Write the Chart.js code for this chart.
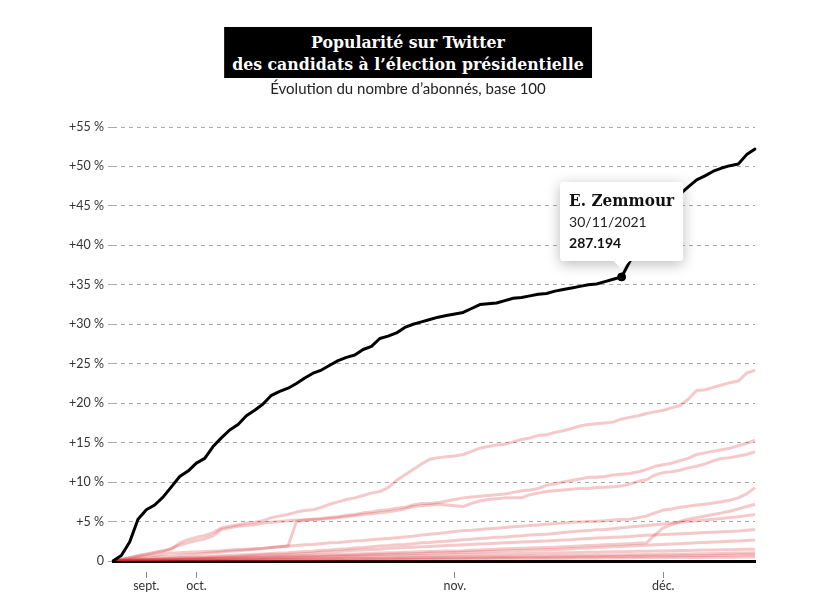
<!DOCTYPE html>
<html lang="fr">
<head>
<meta charset="utf-8">
<script src="https://cdn.jsdelivr.net/npm/chart.js@4.4.1/dist/chart.umd.min.js"></script>
<style>
  html, body { margin: 0; padding: 0; background: #fff; }
  #wrap { position: relative; width: 816px; height: 612px; }
  #title { position: absolute; top: 27px; left: 50%; transform: translateX(-50%);
    background: #000; color: #fff; font-family: 'DejaVu Serif Condensed', 'DejaVu Serif', serif; font-stretch: condensed; font-weight: bold;
    font-size: 17.5px; line-height: 22px; padding: 4px 8px 3px; text-align: center; white-space: nowrap; }
  #subtitle { position: absolute; top: 79px; left: 0; width: 816px; text-align: center;
    font-family: Lato, 'Open Sans', sans-serif; font-size: 15px; color: #222; }
  canvas { position: absolute; left: 0; top: 0; }
</style>
</head>
<body>
<div id="wrap">
  <canvas id="c" width="816" height="612"></canvas>
  <div id="title">Popularité sur Twitter<br>des candidats à l’élection présidentielle</div>
  <div id="subtitle">Évolution du nombre d’abonnés, base 100</div>
</div>
<script>
// ---- Data ----
const dates = [
  '20/08/2021','23/08/2021','26/08/2021','29/08/2021',
  '01/09/2021','06/09/2021','11/09/2021','16/09/2021','21/09/2021','26/09/2021',
  '01/10/2021','02/10/2021','03/10/2021','04/10/2021','05/10/2021','06/10/2021','07/10/2021','08/10/2021',
  '09/10/2021','10/10/2021','11/10/2021','12/10/2021','13/10/2021','14/10/2021','15/10/2021','16/10/2021',
  '17/10/2021','18/10/2021','19/10/2021','20/10/2021','21/10/2021','22/10/2021','23/10/2021','24/10/2021',
  '25/10/2021','26/10/2021','27/10/2021','28/10/2021','29/10/2021','30/10/2021','31/10/2021',
  '01/11/2021','02/11/2021','04/11/2021','05/11/2021','07/11/2021','08/11/2021','10/11/2021','11/11/2021',
  '13/11/2021','14/11/2021','16/11/2021','17/11/2021','19/11/2021','20/11/2021','22/11/2021','23/11/2021',
  '25/11/2021','26/11/2021','28/11/2021','29/11/2021','30/11/2021',
  '01/12/2021','02/12/2021','03/12/2021','04/12/2021','05/12/2021','06/12/2021','07/12/2021','08/12/2021',
  '09/12/2021','10/12/2021','11/12/2021','12/12/2021','13/12/2021','14/12/2021','15/12/2021','16/12/2021'
];

const monthTickLabels = ['sept.', 'oct.', 'nov.', 'déc.'];
const monthTickIndex  = [4, 10, 41, 66];

const yTickValues = [0, 5, 10, 15, 20, 25, 30, 35, 40, 45, 50, 55];

// growth in % (base 100)
const zemmour = [0,0.7,2.4,5.3,6.5,7.1,8.1,9.4,10.7,11.4,
  12.4,13.0,14.5,15.6,16.6,17.3,18.4,19.1,19.9,21.0,
  21.5,21.9,22.5,23.2,23.8,24.2,24.8,25.4,25.8,26.1,
  26.8,27.2,28.2,28.5,28.9,29.6,30.0,30.3,30.6,30.9,
  31.1,31.3,31.5,32.0,32.5,32.6,32.7,33.0,33.3,33.4,
  33.6,33.8,33.9,34.2,34.4,34.6,34.8,35.0,35.1,35.4,
  35.7,36.0,38.0,39.5,41.0,42.5,44.0,45.2,46.5,47.4,
  48.3,48.8,49.4,49.8,50.1,50.3,51.5,52.2];
const zemmourBaseFollowers = 211172;

const candA = [0,0.2,0.4,0.7,0.9,1.1,1.3,1.5,2.3,2.7,
  3.0,3.2,3.6,4.2,4.4,4.6,4.8,4.9,5.1,5.5,
  5.7,5.9,6.2,6.4,6.5,6.8,7.2,7.5,7.8,8.0,
  8.3,8.6,8.8,9.3,10.2,10.9,11.6,12.3,12.9,13.1,
  13.2,13.3,13.5,13.9,14.3,14.5,14.7,14.8,15.1,15.4,
  15.6,15.9,16.0,16.3,16.5,16.8,17.1,17.3,17.4,17.5,
  17.6,18.0,18.2,18.4,18.7,18.9,19.1,19.4,19.7,20.5,
  21.6,21.7,22.0,22.3,22.6,22.8,23.8,24.2];
const candB = [0,0.2,0.4,0.6,0.8,1.0,1.2,1.6,2.0,2.3,
  2.6,2.8,3.2,4.0,4.2,4.4,4.5,4.6,4.8,4.9,
  5.0,5.1,5.2,5.2,5.3,5.4,5.5,5.6,5.8,5.9,
  6.1,6.2,6.4,6.5,6.7,6.8,7.1,7.3,7.3,7.4,
  7.6,7.8,8.0,8.1,8.2,8.3,8.4,8.5,8.7,8.9,
  9.0,9.2,9.6,9.8,10.0,10.2,10.4,10.6,10.6,10.7,
  10.9,11.0,11.1,11.3,11.6,12.0,12.2,12.4,12.7,13.0,
  13.5,13.7,13.9,14.1,14.3,14.6,14.9,15.3];
const candC = [0,0.15,0.3,0.45,0.6,0.7,0.85,1.0,1.05,1.1,
  1.15,1.2,1.25,1.3,1.4,1.45,1.5,1.55,1.6,1.7,
  1.8,1.9,5.0,5.2,5.25,5.3,5.4,5.5,5.6,5.75,
  5.9,6.0,6.1,6.25,6.4,6.6,6.9,7.0,7.1,7.2,
  7.1,7.0,6.9,7.3,7.6,7.8,7.9,8.0,8.0,8.0,
  8.4,8.6,8.8,8.9,9.0,9.1,9.2,9.2,9.3,9.35,
  9.4,9.5,9.75,10.1,10.3,10.9,11.2,11.3,11.5,11.8,
  12.0,12.3,12.7,13.0,13.1,13.3,13.5,13.85];
const candD = [0,0.1,0.2,0.3,0.35,0.45,0.55,0.6,0.7,0.8,
  0.85,0.95,1.05,1.15,1.25,1.3,1.4,1.5,1.6,1.7,
  1.8,1.9,1.95,2.05,2.1,2.2,2.3,2.35,2.45,2.55,
  2.6,2.7,2.8,2.85,2.95,3.05,3.15,3.3,3.4,3.5,
  3.6,3.75,3.85,3.9,4.0,4.1,4.15,4.25,4.35,4.4,
  4.5,4.55,4.65,4.75,4.8,4.9,4.95,5.0,5.05,5.1,
  5.2,5.25,5.3,5.5,5.7,6.1,6.45,6.6,6.8,6.95,
  7.1,7.2,7.35,7.5,7.7,8.0,8.5,9.3];
const candE = [0,0.03,0.06,0.09,0.12,0.15,0.18,0.21,0.24,0.27,
  0.3,0.33,0.36,0.39,0.42,0.45,0.48,0.5,0.52,0.55,
  0.6,0.63,0.67,0.7,0.73,0.76,0.8,0.83,0.86,0.9,
  0.93,0.96,1.0,1.03,1.06,1.1,1.13,1.16,1.2,1.23,
  1.26,1.28,1.3,1.35,1.4,1.45,1.5,1.55,1.58,1.6,
  1.65,1.68,1.72,1.75,1.8,1.85,1.9,1.95,2.0,2.05,
  2.1,2.15,2.2,2.25,2.3,3.3,4.2,4.6,5.0,5.3,
  5.5,5.7,5.9,6.1,6.3,6.6,6.9,7.2];
const candF = [0,0.05,0.1,0.15,0.2,0.25,0.3,0.35,0.4,0.45,
  0.5,0.55,0.6,0.65,0.7,0.75,0.8,0.85,0.9,0.95,
  1.0,1.05,1.15,1.2,1.25,1.35,1.4,1.5,1.55,1.65,
  1.7,1.8,1.9,1.95,2.05,2.1,2.2,2.3,2.35,2.45,
  2.5,2.6,2.7,2.75,2.85,2.9,3.0,3.05,3.15,3.2,
  3.3,3.35,3.4,3.5,3.6,3.7,3.8,3.85,3.95,4.0,
  4.1,4.2,4.3,4.4,4.5,4.6,4.7,4.8,4.9,5.0,
  5.1,5.2,5.3,5.4,5.5,5.6,5.75,5.9];
const candG = [0,0.05,0.1,0.15,0.2,0.2,0.25,0.3,0.35,0.4,
  0.4,0.45,0.5,0.55,0.55,0.6,0.65,0.7,0.75,0.8,
  0.8,0.85,0.9,0.95,1.0,1.1,1.15,1.2,1.3,1.35,
  1.4,1.45,1.5,1.6,1.65,1.7,1.75,1.8,1.85,1.9,
  1.95,2.0,2.05,2.1,2.15,2.2,2.25,2.3,2.35,2.4,
  2.45,2.5,2.55,2.6,2.65,2.7,2.8,2.85,2.9,2.95,
  3.0,3.05,3.1,3.2,3.25,3.3,3.35,3.4,3.45,3.5,
  3.55,3.6,3.65,3.7,3.75,3.8,3.9,4.0];
const candH = [0,0.02,0.05,0.07,0.1,0.12,0.15,0.17,0.2,0.22,
  0.25,0.27,0.3,0.32,0.35,0.37,0.4,0.42,0.45,0.47,
  0.48,0.5,0.52,0.55,0.58,0.6,0.63,0.66,0.7,0.73,
  0.76,0.8,0.82,0.85,0.88,0.9,0.93,0.96,1.0,1.02,
  1.05,1.08,1.1,1.13,1.16,1.2,1.23,1.26,1.3,1.33,
  1.36,1.4,1.43,1.46,1.5,1.55,1.6,1.65,1.7,1.75,
  1.8,1.85,1.9,1.95,2.0,2.05,2.1,2.15,2.2,2.25,
  2.3,2.35,2.4,2.45,2.5,2.55,2.6,2.66];
const candI = [0,0.02,0.04,0.06,0.08,0.1,0.12,0.14,0.16,0.18,
  0.2,0.22,0.24,0.26,0.28,0.3,0.32,0.34,0.36,0.38,
  0.4,0.42,0.44,0.46,0.48,0.5,0.52,0.54,0.56,0.58,
  0.6,0.61,0.62,0.64,0.66,0.68,0.7,0.71,0.72,0.74,
  0.76,0.78,0.8,0.82,0.84,0.86,0.88,0.9,0.92,0.94,
  0.96,0.98,1.0,1.02,1.04,1.06,1.08,1.1,1.12,1.14,
  1.16,1.18,1.2,1.22,1.24,1.26,1.28,1.3,1.32,1.34,
  1.36,1.38,1.4,1.42,1.44,1.46,1.48,1.5];
const candJ = [0,0.01,0.02,0.03,0.04,0.05,0.06,0.07,0.08,0.09,
  0.1,0.11,0.12,0.13,0.14,0.15,0.16,0.17,0.18,0.2,
  0.21,0.22,0.24,0.25,0.26,0.28,0.3,0.31,0.32,0.34,
  0.35,0.36,0.38,0.39,0.4,0.42,0.43,0.44,0.46,0.47,
  0.48,0.5,0.51,0.52,0.54,0.55,0.56,0.58,0.59,0.6,
  0.62,0.63,0.64,0.66,0.67,0.68,0.7,0.71,0.72,0.74,
  0.75,0.77,0.78,0.8,0.81,0.83,0.85,0.86,0.88,0.9,
  0.91,0.93,0.95,0.96,0.98,1.0,1.02,1.05];
const candK = [0,0.01,0.01,0.02,0.03,0.04,0.05,0.06,0.07,0.07,
  0.08,0.09,0.1,0.11,0.12,0.12,0.13,0.14,0.15,0.16,
  0.17,0.18,0.19,0.2,0.21,0.22,0.23,0.24,0.25,0.26,
  0.27,0.28,0.29,0.3,0.31,0.32,0.33,0.34,0.35,0.36,
  0.37,0.38,0.39,0.4,0.41,0.42,0.43,0.44,0.45,0.46,
  0.47,0.48,0.49,0.5,0.51,0.52,0.53,0.54,0.55,0.56,
  0.57,0.58,0.59,0.6,0.61,0.62,0.63,0.64,0.65,0.66,
  0.67,0.68,0.7,0.72,0.74,0.76,0.78,0.8];
const candL = [null,null,null,null,null,null,null,null,null,null,
  0,0.01,0.02,0.02,0.03,0.04,0.05,0.05,0.06,0.07,
  0.08,0.08,0.09,0.1,0.11,0.11,0.12,0.13,0.14,0.14,
  0.15,0.16,0.17,0.17,0.18,0.19,0.2,0.2,0.21,0.22,
  0.23,0.23,0.24,0.25,0.26,0.26,0.27,0.28,0.29,0.29,
  0.3,0.31,0.32,0.32,0.33,0.34,0.35,0.35,0.36,0.37,
  0.38,0.38,0.39,0.4,0.41,0.41,0.42,0.43,0.44,0.44,
  0.45,0.46,0.47,0.47,0.48,0.49,0.5,0.5];

const otherSeries = [candA, candB, candC, candD, candE, candF, candG, candH, candI, candJ, candK, candL];
const otherNames = ['Candidat A','Candidat B','Candidat C','Candidat D','Candidat E','Candidat F',
                    'Candidat G','Candidat H','Candidat I','Candidat J','Candidat K','Candidat L'];
const tooltipDate = '30/11/2021';

// ---- Chart ----
const RED = 'rgba(215, 40, 45, 0.25)';
const datasets = [{
  label: 'E. Zemmour', data: zemmour, borderColor: '#000', borderWidth: 3,
  pointRadius: 0, pointHoverRadius: 4, pointHoverBackgroundColor: '#000', pointHoverBorderColor: '#000',
  pointHoverBorderWidth: 1, tension: 0, borderJoinStyle: 'round', borderCapStyle: 'round'
}].concat(otherSeries.map((s, i) => ({
  label: otherNames[i], data: s, borderColor: RED, borderWidth: 3, pointRadius: 0,
  pointHoverRadius: 0, tension: 0, borderJoinStyle: 'round', spanGaps: false
})));

const tooltipShadow = {
  id: 'tooltipShadow',
  beforeTooltipDraw(chart, args) {
    const t = args.tooltip;
    if (!t || !t.opacity) return;
    const ctx = chart.ctx;
    ctx.save();
    ctx.shadowColor = 'rgba(0,0,0,0.28)';
    ctx.shadowBlur = 14;
    ctx.shadowOffsetY = 3;
    ctx.fillStyle = '#fff';
    ctx.beginPath();
    ctx.roundRect(t.x, t.y, t.width, t.height, 4);
    ctx.fill();
    ctx.restore();
  }
};

const fmtThousands = n => String(n).replace(/\B(?=(\d{3})+(?!\d))/g, '.');

const chart = new Chart(document.getElementById('c'), {
  type: 'line',
  data: { labels: dates, datasets },
  plugins: [tooltipShadow],
  options: {
    responsive: false,
    devicePixelRatio: 1,
    animation: false,
    events: [],
    layout: { padding: { top: 127, right: 61, bottom: 0, left: 53 } },
    plugins: {
      legend: { display: false },
      title: { display: false },
      tooltip: {
        enabled: true,
        filter: item => item.datasetIndex === 0,
        backgroundColor: '#fff',
        titleColor: '#111', bodyColor: '#222', footerColor: '#111',
        titleFont: { family: "'DejaVu Serif Condensed', 'DejaVu Serif'", weight: 'bold', size: 17 },
        bodyFont: { family: 'Lato', size: 14 },
        footerFont: { family: 'Lato', weight: 'bold', size: 14 },
        titleMarginBottom: 3, bodySpacing: 0, footerMarginTop: 4,
        padding: { top: 9, bottom: 9, left: 9, right: 9 },
        cornerRadius: 4, caretSize: 8, caretPadding: 8,
        displayColors: false, xAlign: 'center', yAlign: 'bottom',
        callbacks: {
          title: items => items[0].dataset.label,
          label: item => item.label,
          footer: items => fmtThousands(Math.round(zemmourBaseFollowers * (1 + items[0].raw / 100)))
        }
      }
    },
    scales: {
      x: {
        type: 'category',
        offset: false,
        afterBuildTicks: scale => { scale.ticks = monthTickIndex.map(v => ({ value: v })); },
        afterFit: scale => { scale.height = 51; },
        ticks: {
          autoSkip: false, maxRotation: 0, padding: 0, color: '#333',
          font: { family: 'Lato', size: 12.5 },
          callback: (value) => monthTickLabels[monthTickIndex.indexOf(value)]
        },
        grid: { display: true, drawOnChartArea: false, drawTicks: true, tickLength: 17,
                tickColor: '#888', tickWidth: 1, tickBorderDash: [0, 9, 6, 100] },
        border: { display: true, color: '#000', width: 3 }
      },
      y: {
        min: 0, max: 55,
        afterBuildTicks: scale => { scale.ticks = yTickValues.map(v => ({ value: v })); },
        afterFit: scale => { scale.width = 60; },
        ticks: {
          padding: 4, color: '#333', font: { family: 'Lato', size: 12.5 },
          callback: v => v === 0 ? '0' : '+' + v + '\u00a0%'
        },
        grid: { color: '#aaa', lineWidth: 1, tickLength: 5, tickColor: '#aaa', tickBorderDash: [] },
        border: { display: false, dash: [4, 4] }
      }
    }
  }
});

const ti = dates.indexOf(tooltipDate);
chart.setActiveElements([{ datasetIndex: 0, index: ti }]);
chart.tooltip.setActiveElements([{ datasetIndex: 0, index: ti }], { x: 0, y: 0 });
chart.update();
</script>
</body>
</html>
